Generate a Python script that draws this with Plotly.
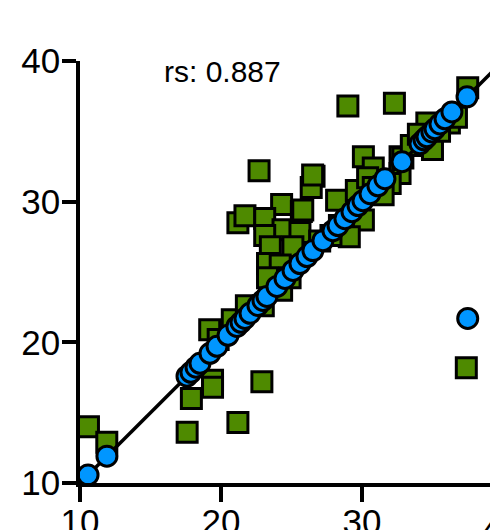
import plotly.graph_objects as go

# green squares (x, y)
green_x = [10.6, 11.9, 17.6, 17.9, 19.4, 19.4, 21.2, 22.9, 19.2, 19.8, 20.8, 21.8, 23.0, 24.3,
           22.7, 26.6, 26.4, 21.2, 21.7, 24.3, 25.7, 23.1, 24.4, 23.1, 25.6, 23.5, 25.1, 23.3,
           24.2, 24.9, 23.3, 28.2, 30.1, 26.5, 25.8, 29.6, 30.8, 30.4, 32.7, 32.7, 28.4, 29.5,
           30.1, 29.1, 30.8, 32.0, 32.3, 29.0, 37.5, 34.6, 36.2, 35.0, 32.9, 36.7, 37.4,
           27.0, 27.8, 31.5, 33.5, 34.0, 35.5]
green_y = [14.0, 12.9, 13.6, 16.0, 17.3, 16.8, 14.3, 17.2, 20.9, 20.2, 21.6, 22.6, 22.6, 23.7,
           32.2, 31.8, 31.0, 28.5, 29.0, 29.8, 29.3, 28.8, 28.0, 27.6, 27.8, 26.8, 26.8, 25.6,
           25.5, 24.6, 24.6, 30.1, 33.2, 31.9, 29.4, 30.8, 32.4, 31.7, 33.2, 32.0, 28.3, 29.0,
           28.7, 27.5, 31.0, 31.3, 37.0, 36.8, 38.1, 35.6, 35.6, 33.7, 33.1, 36.0, 18.2,
           27.2, 27.6, 30.5, 34.0, 34.8, 35.0]

# blue circles (x, y)
blue_x = [10.57, 11.91, 17.59, 17.87, 18.23, 18.51, 19.22, 19.72, 20.50, 21.13, 21.42, 21.70,
          22.06, 22.62, 22.98, 23.26, 23.97, 24.54, 25.11, 25.60, 26.10, 26.52, 27.23, 27.94,
          28.30, 28.79, 29.29, 29.72, 30.07, 30.57, 31.13, 31.63, 32.84, 34.11, 34.40, 34.61,
          34.96, 35.18, 35.53, 35.89, 36.38, 37.45, 37.50]
blue_y = [10.57, 11.91, 17.59, 17.87, 18.23, 18.51, 19.22, 19.72, 20.50, 21.13, 21.42, 21.70,
          22.06, 22.62, 22.98, 23.26, 23.97, 24.54, 25.11, 25.60, 26.10, 26.52, 27.23, 27.94,
          28.30, 28.79, 29.29, 29.72, 30.07, 30.57, 31.13, 31.63, 32.84, 34.11, 34.40, 34.61,
          34.96, 35.18, 35.53, 35.89, 36.38, 37.45, 21.70]

line_x = [10.5, 40.0]
line_y = [10.5, 40.0]

tick_vals = [10, 20, 30, 40]
tick_text = ["10", "20", "30", "40"]
stat_label = "rs: 0.887"

fig = go.Figure()
fig.add_trace(go.Scatter(
    x=green_x, y=green_y, mode="markers",
    marker=dict(symbol="square", size=20, color="#4e8a00",
                line=dict(color="black", width=3)),
    cliponaxis=False, showlegend=False))
fig.add_trace(go.Scatter(
    x=line_x, y=line_y, mode="lines",
    line=dict(color="black", width=3.5), showlegend=False))
fig.add_trace(go.Scatter(
    x=blue_x, y=blue_y, mode="markers",
    marker=dict(symbol="circle", size=20, color="#0096ff",
                line=dict(color="black", width=3)),
    cliponaxis=False, showlegend=False))

axis_font = dict(family="Liberation Sans, Arial, sans-serif", size=35, color="black")
fig.update_layout(
    width=490, height=530,
    margin=dict(l=80, r=0, t=61, b=47),
    plot_bgcolor="white", paper_bgcolor="white",
    xaxis=dict(range=[10, 39.08], showgrid=False, zeroline=False, automargin=False,
               showline=True, linecolor="black", linewidth=3.5,
               ticks="outside", ticklen=15, tickwidth=3.5, tickcolor="black",
               ticklabelstandoff=-10,
               tickvals=tick_vals, ticktext=tick_text, tickfont=axis_font),
    yaxis=dict(range=[10, 40], showgrid=False, zeroline=False, automargin=False,
               showline=True, linecolor="black", linewidth=3.5,
               ticks="outside", ticklen=14, tickwidth=3.5, tickcolor="black",
               ticklabelstandoff=-5,
               tickvals=tick_vals, ticktext=tick_text, tickfont=axis_font),
    annotations=[
        dict(text=stat_label, xref="paper", yref="paper", x=0.2, y=0.974,
             xanchor="left", yanchor="middle", showarrow=False,
             font=dict(family="Liberation Sans, Arial, sans-serif", size=30, color="black")),
        dict(text=tick_text[3], xref="paper", yref="paper", x=(503 - 80) / 410, y=-0.05,
             xanchor="center", yanchor="top", showarrow=False,
             font=axis_font),
    ],
)
fig.write_html("out.html")
